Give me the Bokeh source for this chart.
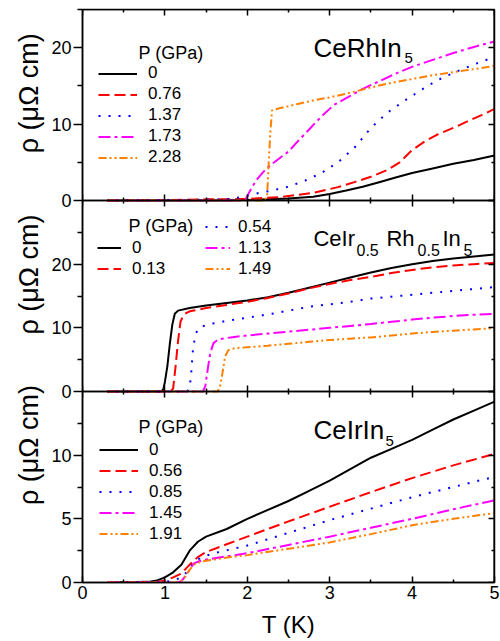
import math
from bokeh.plotting import figure
from bokeh.layouts import row
from bokeh.models import (Range1d, LinearAxis, FixedTicker, Label, Legend, LegendItem,
                          CustomJSTickFormatter)
from bokeh.core.properties import value
from bokeh.embed import file_html
from bokeh.resources import INLINE

FONT = "Liberation Sans"

# ---------------- axes ticks ----------------
X_TICKS = [0, 1, 2, 3, 4, 5]
X_MINOR = [0.5, 1.5, 2.5, 3.5, 4.5]
X_TICK_LABELS = ["0", "1", "2", "3", "4", "5"]

RH_TOP = 25
RH_TICKS = [0, 10, 20]
RH_MINOR = [5, 15, 25]
MIX_TOP = 30
MIX_TICKS = [0, 10, 20]
MIX_MINOR = [5, 15, 25]
IR_TOP = 15
IR_TICKS = [0, 5, 10]
IR_MINOR = [2.5, 7.5, 12.5]

Y_TITLE = "ρ (μΩ cm)"

# ---------------- CeRhIn5 ----------------
RH_P = ["0", "0.76", "1.37", "1.73", "2.28"]
T_rh_0 = [0.3, 1.5, 2.0, 2.5, 2.8, 3.0, 3.2, 3.4, 3.6, 3.8, 4.0, 4.25, 4.5, 4.75, 5.0]
R_rh_0 = [0, 0, 0.05, 0.25, 0.5, 0.85, 1.3, 1.8, 2.4, 3.0, 3.6, 4.2, 4.8, 5.3, 5.9]
T_rh_1 = [0.3, 1.0, 1.5, 2.0, 2.4, 2.8, 3.1, 3.3, 3.5, 3.7, 3.85, 4.0, 4.15, 4.3, 4.5, 4.7, 4.85, 5.0]
R_rh_1 = [0, 0.05, 0.15, 0.2, 0.45, 1.0, 1.75, 2.4, 3.1, 4.0, 5.0, 6.6, 7.7, 8.6, 9.5, 10.5, 11.2, 12.0]
T_rh_2 = [0.3, 1.5, 1.8, 1.95, 2.1, 2.3, 2.5, 2.7, 2.9, 3.1, 3.3, 3.5, 3.7, 3.9, 4.1, 4.3, 4.5, 4.75, 5.0]
R_rh_2 = [0, 0.1, 0.2, 0.5, 0.9, 1.3, 1.8, 2.6, 3.6, 5.0, 6.9, 9.5, 11.5, 13.0, 14.4, 15.7, 16.7, 17.8, 18.8]
T_rh_3 = [0.3, 1.9, 1.98, 2.02, 2.06, 2.12, 2.2, 2.3, 2.4, 2.5, 2.6, 2.75, 2.9, 3.05, 3.2, 3.4, 3.6, 3.8, 4.0, 4.25, 4.5, 4.75, 5.0]
R_rh_3 = [0, 0, 0.2, 1.0, 1.8, 2.8, 3.8, 4.8, 5.6, 6.4, 7.6, 9.3, 11.0, 12.5, 13.4, 14.6, 15.6, 16.6, 17.5, 18.4, 19.3, 20.1, 20.8]
T_rh_4 = [0.3, 2.2, 2.24, 2.26, 2.28, 2.3, 2.4, 2.6, 2.8, 3.0, 3.25, 3.5, 3.75, 4.0, 4.25, 4.5, 4.75, 5.0]
R_rh_4 = [0, 0, 0.5, 5.0, 9.0, 11.8, 12.1, 12.6, 13.1, 13.5, 14.1, 14.8, 15.4, 15.9, 16.4, 16.8, 17.2, 17.6]

# ---------------- CeIr0.5Rh0.5In5 ----------------
MIX_P = ["0", "0.13", "0.54", "1.13", "1.49"]
T_mx_0 = [0.3, 0.95, 0.98, 1.0, 1.03, 1.06, 1.09, 1.12, 1.16, 1.3, 1.5, 1.75, 2.0, 2.25, 2.5, 2.75, 3.0, 3.25, 3.5, 3.75, 4.0, 4.25, 4.5, 4.75, 5.0]
R_mx_0 = [0, 0, 0.3, 1.5, 4.0, 7.5, 10.5, 12.2, 12.7, 13.1, 13.5, 13.9, 14.3, 14.8, 15.5, 16.3, 17.1, 17.9, 18.7, 19.4, 20.0, 20.5, 20.9, 21.2, 21.5]
T_mx_1 = [0.3, 1.07, 1.1, 1.13, 1.16, 1.19, 1.23, 1.3, 1.5, 1.75, 2.0, 2.25, 2.5, 2.75, 3.0, 3.25, 3.5, 3.75, 4.0, 4.25, 4.5, 4.75, 5.0]
R_mx_1 = [0, 0, 0.5, 4.0, 8.0, 11.0, 12.1, 12.6, 13.1, 13.6, 14.1, 14.7, 15.4, 16.2, 16.9, 17.5, 18.0, 18.6, 19.1, 19.5, 19.8, 20.0, 20.2]
T_mx_2 = [0.3, 1.27, 1.3, 1.32, 1.34, 1.37, 1.42, 1.55, 1.75, 2.0, 2.25, 2.5, 2.75, 3.0, 3.25, 3.5, 3.75, 4.0, 4.25, 4.5, 4.75, 5.0]
R_mx_2 = [0, 0, 0.5, 3.0, 6.5, 9.0, 10.1, 10.6, 11.1, 11.6, 12.1, 12.7, 13.3, 13.7, 14.1, 14.6, 14.9, 15.2, 15.5, 15.8, 16.1, 16.4]
T_mx_3 = [0.3, 1.46, 1.49, 1.52, 1.55, 1.59, 1.65, 1.8, 2.0, 2.25, 2.5, 2.75, 3.0, 3.25, 3.5, 3.75, 4.0, 4.25, 4.5, 4.75, 5.0]
R_mx_3 = [0, 0, 0.8, 3.5, 6.0, 7.6, 8.2, 8.5, 8.8, 9.1, 9.4, 9.7, 10.0, 10.3, 10.6, 10.95, 11.3, 11.6, 11.85, 12.05, 12.2]
T_mx_4 = [0.3, 1.64, 1.67, 1.7, 1.73, 1.77, 1.85, 2.0, 2.25, 2.5, 2.75, 3.0, 3.25, 3.5, 3.75, 4.0, 4.25, 4.5, 4.75, 5.0]
R_mx_4 = [0, 0, 0.8, 3.0, 5.5, 6.5, 6.8, 6.95, 7.2, 7.5, 7.8, 8.1, 8.3, 8.5, 8.8, 9.1, 9.35, 9.55, 9.75, 9.95]

# ---------------- CeIrIn5 ----------------
IR_P = ["0", "0.56", "0.85", "1.45", "1.91"]
T_ir_0 = [0.3, 0.8, 0.9, 1.0, 1.1, 1.2, 1.3, 1.4, 1.5, 1.75, 2.0, 2.25, 2.5, 2.75, 3.0, 3.25, 3.5, 3.75, 4.0, 4.25, 4.5, 4.75, 5.0]
R_ir_0 = [0, 0.05, 0.15, 0.4, 0.8, 1.4, 2.5, 3.2, 3.6, 4.2, 5.0, 5.7, 6.4, 7.2, 8.0, 8.9, 9.8, 10.5, 11.2, 12.0, 12.8, 13.5, 14.2]
T_ir_1 = [0.3, 0.9, 1.0, 1.1, 1.2, 1.3, 1.4, 1.5, 1.75, 2.0, 2.5, 3.0, 3.5, 4.0, 4.5, 5.0]
R_ir_1 = [0, 0.05, 0.15, 0.4, 0.7, 1.4, 2.0, 2.4, 3.0, 3.6, 4.8, 5.95, 7.1, 8.2, 9.2, 10.1]
T_ir_2 = [0.3, 1.0, 1.1, 1.2, 1.28, 1.35, 1.45, 1.6, 1.8, 2.0, 2.5, 3.0, 3.5, 4.0, 4.5, 5.0]
R_ir_2 = [0, 0.05, 0.15, 0.4, 0.9, 1.6, 2.0, 2.3, 2.6, 2.9, 3.9, 4.9, 5.8, 6.7, 7.5, 8.3]
T_ir_3 = [0.3, 1.15, 1.2, 1.25, 1.3, 1.35, 1.45, 1.6, 1.8, 2.0, 2.5, 3.0, 3.5, 4.0, 4.5, 5.0]
R_ir_3 = [0, 0, 0.1, 0.5, 1.0, 1.5, 1.75, 1.9, 2.1, 2.3, 2.95, 3.6, 4.3, 5.0, 5.75, 6.45]
T_ir_4 = [0.3, 1.15, 1.2, 1.25, 1.3, 1.35, 1.45, 1.6, 1.8, 2.0, 2.5, 3.0, 3.5, 4.0, 4.5, 5.0]
R_ir_4 = [0, 0, 0.1, 0.5, 1.0, 1.4, 1.65, 1.8, 2.0, 2.15, 2.65, 3.15, 3.8, 4.5, 5.0, 5.45]

COLORS = ["#000000", "#FF0000", "#0000FF", "#FF00FF", "#FF8000"]
DASHES = ["solid", "11 5", "2 8", "12 4 3 4", "8 3 2 3 2 3"]

# ---------------- main figure ----------------
# default y range: stacked panel coordinate (panel index 0 = bottom), used for the left axis
p = figure(width=454, height=640, x_range=Range1d(0, 5), y_range=Range1d(0, 3),
           x_axis_location=None, y_axis_location=None,
           output_backend="svg", toolbar_location=None,
           min_border_left=36, min_border_right=6, min_border_top=9, min_border_bottom=58)
p.extra_y_ranges = {"rh": Range1d(-2 * RH_TOP, RH_TOP),
                    "mix": Range1d(-MIX_TOP, 2 * MIX_TOP),
                    "ir": Range1d(0, 3 * IR_TOP)}
p.xgrid.visible = False
p.ygrid.visible = False
p.outline_line_color = "black"
p.outline_line_width = 1.5
p.background_fill_color = "white"
p.border_fill_color = "white"

EMPTY = CustomJSTickFormatter(code="return ''")


def style_ticks(ax, tin, tout, mtin, mtout):
    ax.major_tick_in = tin
    ax.major_tick_out = tout
    ax.minor_tick_in = mtin
    ax.minor_tick_out = mtout
    ax.major_tick_line_width = 1.5
    ax.minor_tick_line_width = 1.5
    ax.major_tick_line_color = "black"
    ax.minor_tick_line_color = "black"
    ax.axis_line_width = 1.5
    ax.axis_line_color = "black"


# bottom axis with labels
xb = LinearAxis(ticker=FixedTicker(ticks=X_TICKS, minor_ticks=X_MINOR),
                major_label_overrides={t: l for t, l in zip(X_TICKS, X_TICK_LABELS)},
                axis_label="T (K)")
style_ticks(xb, 6, 0, 3, 0)
xb.major_label_text_font = FONT
xb.major_label_text_font_size = "18px"
xb.major_label_text_color = "black"
xb.major_label_standoff = 3
xb.axis_label_text_font = FONT
xb.axis_label_text_font_size = "24px"
xb.axis_label_text_color = "black"
xb.axis_label_text_font_style = "normal"
xb.axis_label_standoff = 9
p.add_layout(xb, "below")

# left axis: one axis over the stacked panels (bottom -> top)
stack = [(IR_TOP, IR_TICKS, IR_MINOR), (MIX_TOP, MIX_TICKS, MIX_MINOR), (RH_TOP, RH_TICKS, RH_MINOR)]
pos, lab, mpos = [], [], []
for k, (top, ticks, minor) in enumerate(stack):
    pos += [k + t / top for t in ticks]
    lab += [str(t) for t in ticks]
    mpos += [k + t / top for t in minor]
ly = LinearAxis(ticker=FixedTicker(ticks=pos, minor_ticks=mpos),
                formatter=CustomJSTickFormatter(args=dict(pos=pos, lab=lab), code="""
                    for (let i = 0; i < pos.length; i++) {
                        if (Math.abs(tick - pos[i]) < 1e-6) return lab[i];
                    }
                    return '';"""))
style_ticks(ly, 0, 9, 0, 5)
ly.major_label_text_font = FONT
ly.major_label_text_font_size = "18px"
ly.major_label_text_color = "black"
ly.major_label_standoff = 2
p.add_layout(ly, "left")

panels = [
    ("rh", RH_TOP, RH_TICKS, RH_MINOR),
    ("mix", MIX_TOP, MIX_TICKS, MIX_MINOR),
    ("ir", IR_TOP, IR_TICKS, IR_MINOR),
]

for rname, top, ticks, minor in panels:
    ry = LinearAxis(y_range_name=rname, fixed_location=5,
                    ticker=FixedTicker(ticks=ticks + [top], minor_ticks=minor),
                    formatter=EMPTY)
    style_ticks(ry, 6, 0, 3, 0)
    p.add_layout(ry, "right")

    xt = LinearAxis(y_range_name=rname, fixed_location=top,
                    ticker=FixedTicker(ticks=X_TICKS, minor_ticks=X_MINOR), formatter=EMPTY)
    style_ticks(xt, 6, 0, 3, 0)
    p.add_layout(xt, "above")

    if rname != "ir":
        xbb = LinearAxis(y_range_name=rname, fixed_location=0,
                         ticker=FixedTicker(ticks=X_TICKS, minor_ticks=X_MINOR), formatter=EMPTY)
        style_ticks(xbb, 6, 0, 3, 0)
        p.add_layout(xbb, "below")

# ---------------- curves ----------------
series = {
    "rh": list(zip([T_rh_0, T_rh_1, T_rh_2, T_rh_3, T_rh_4], [R_rh_0, R_rh_1, R_rh_2, R_rh_3, R_rh_4])),
    "mix": list(zip([T_mx_0, T_mx_1, T_mx_2, T_mx_3, T_mx_4], [R_mx_0, R_mx_1, R_mx_2, R_mx_3, R_mx_4])),
    "ir": list(zip([T_ir_0, T_ir_1, T_ir_2, T_ir_3, T_ir_4], [R_ir_0, R_ir_1, R_ir_2, R_ir_3, R_ir_4])),
}
rends = {}
for rname, lst in series.items():
    rends[rname] = []
    for i, (T, R) in enumerate(lst):
        r = p.line(T, R, y_range_name=rname, line_color=COLORS[i], line_width=2,
                   line_dash=DASHES[i])
        rends[rname].append(r)


def make_legend(labels, renderers, loc, gw, standoff):
    lg = Legend(items=[LegendItem(label=l, renderers=[r]) for l, r in zip(labels, renderers)],
                location=loc)
    lg.background_fill_alpha = 0
    lg.border_line_color = None
    lg.padding = 0
    lg.margin = 0
    lg.spacing = 1
    lg.glyph_width = gw
    lg.glyph_height = 19
    lg.label_height = 19
    lg.label_standoff = standoff
    lg.label_text_font = FONT
    lg.label_text_font_size = "17px"
    lg.label_text_color = "black"
    p.add_layout(lg)


make_legend(RH_P, rends["rh"], (16, 414.7), 39, 11)
make_legend(MIX_P[:2], rends["mix"][:2], (15, 303.3), 24, 11)
make_legend(MIX_P[2:], rends["mix"][2:], (123, 303.3), 25, 8)
make_legend(IR_P, rends["ir"], (17, 38.3), 39, 11)


def txt(text, x, y, rname, size, align="left", baseline="alphabetic"):
    lb = Label(x=x, y=y, y_range_name=rname, text=text, text_font=FONT,
               text_font_size=size, text_align=align, text_baseline=baseline,
               text_color="black")
    p.add_layout(lb)


# legend titles
txt("P (GPa)", 0.68, 19.37, "rh", "18px", baseline="middle")
txt("P (GPa)", 0.558, 26.07, "mix", "18px", baseline="middle")
txt("P (GPa)", 0.68, 12.25, "ir", "18px", baseline="middle")

# compound names
txt("CeRhIn", 2.803, 19.9, "rh", "26px")
txt("5", 3.908, 18.59, "rh", "15px")

txt("CeIr", 2.803, 24.03, "mix", "22px")
txt("0.5", 3.325, 22.3, "mix", "16px")
txt("Rh", 3.689, 24.03, "mix", "22px")
txt("0.5", 4.066, 22.3, "mix", "16px")
txt("In", 4.369, 24.03, "mix", "22px")
txt("5", 4.624, 22.3, "mix", "16px")

txt("CeIrIn", 2.803, 11.94, "ir", "26px")
txt("5", 3.677, 11.08, "ir", "15px")

# ---------------- y-axis titles (narrow strip to the left) ----------------
t = figure(width=46, height=640, x_range=Range1d(0, 46), y_range=Range1d(640, 0),
           x_axis_location=None, y_axis_location=None,
           output_backend="svg", toolbar_location=None,
           min_border_left=0, min_border_right=0, min_border_top=0, min_border_bottom=0)
t.xgrid.visible = False
t.ygrid.visible = False
t.outline_line_color = None
t.text(x=[28, 28, 28], y=[93.5, 296, 486.5], text=[Y_TITLE] * 3, angle=math.pi / 2,
       text_align="center", text_baseline="middle", text_font=value(FONT),
       text_font_size="27px", text_color="black")

layout = row(t, p)
open("out.html", "w").write(file_html(layout, INLINE))
